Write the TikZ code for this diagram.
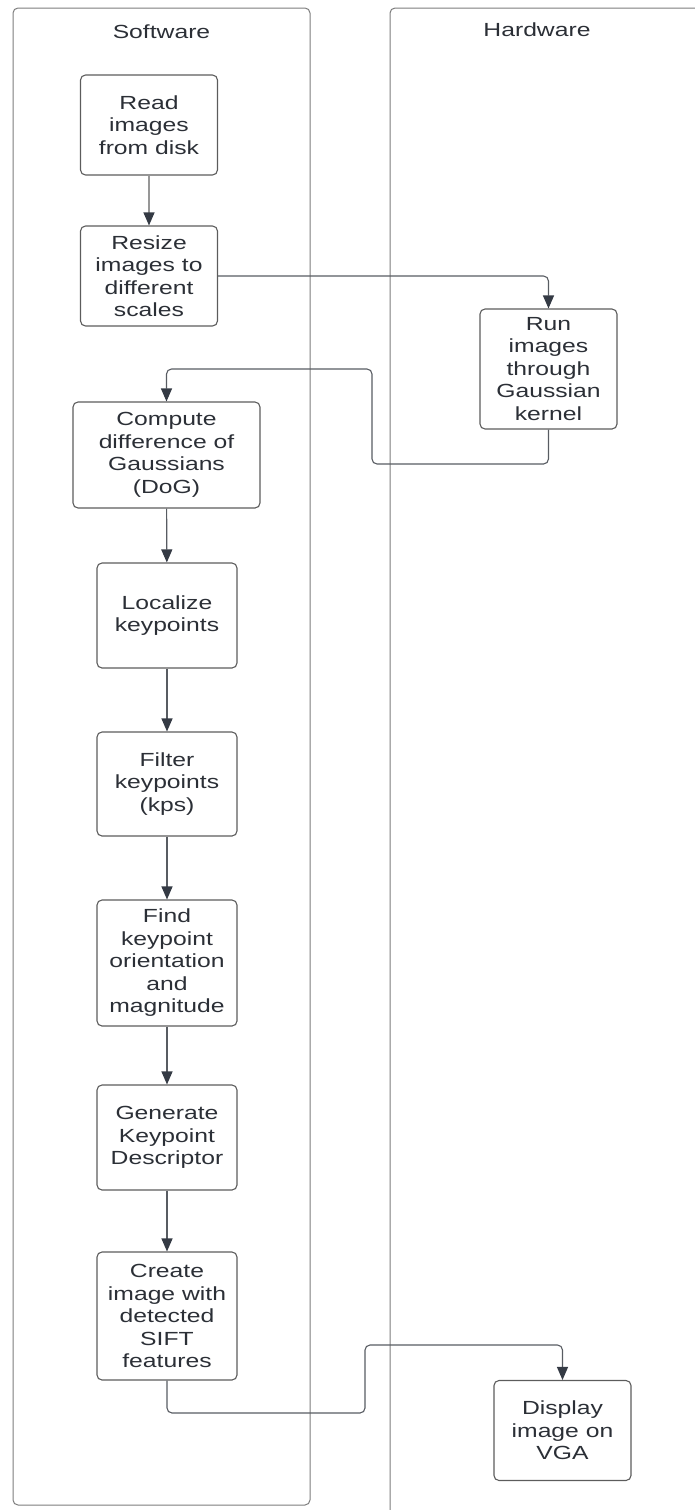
\documentclass[tikz,border=0pt]{standalone}
\usepackage{fontspec}
\newfontfamily\lucid{Liberation Sans}[FakeStretch=1.3]
\usetikzlibrary{arrows.meta}
\definecolor{lanegray}{RGB}{125,125,125}
\definecolor{boxgray}{RGB}{92,92,92}
\definecolor{inkdark}{RGB}{43,47,54}
\definecolor{wiregray}{RGB}{88,92,98}
\definecolor{tipdark}{RGB}{52,58,68}

\begin{document}
\begin{tikzpicture}[x=1pt,y=-1pt,
    lane/.style={draw=lanegray, line width=1pt, rounded corners=5pt},
    proc/.style={draw=boxgray, line width=1.1pt, rounded corners=5pt, align=center,
      inner sep=0pt, text=inkdark, font=\lucid\fontsize{19}{22.5}\selectfont},
    title/.style={text=inkdark, font=\lucid\fontsize{19}{22.5}\selectfont},
    flow/.style={draw=wiregray, line width=1.1pt, rounded corners=5pt,
      -{Triangle[length=13pt,width=11pt,color=tipdark]}}]
    \useasboundingbox (0,0) rectangle (695,1510);

    % swimlanes
    \draw[lane] (13,8) rectangle (310,1505);
    \draw[lane] (390,1520) -- (390,8) -- (720,8);
    \node[title] (sw) at (161.5,32) {Software};
    \node[title] (hw) at (537,30) {Hardware};

    % software steps
    \node[proc, minimum width=137pt, minimum height=100pt] (read) at (149,125) {Read\\images\\from disk};
    \node[proc, minimum width=137pt, minimum height=100pt] (resize) at (149,276) {Resize\\images to\\different\\scales};
    \node[proc, minimum width=187pt, minimum height=106pt] (dog) at (166.5,455) {Compute\\difference of\\Gaussians\\(DoG)};
    \node[proc, minimum width=140pt, minimum height=105pt] (loc) at (167,615.5) {Localize\\keypoints};
    \node[proc, minimum width=140pt, minimum height=104pt] (filt) at (167,784) {Filter\\keypoints\\(kps)};
    \node[proc, minimum width=140pt, minimum height=126pt] (orient) at (167,963) {Find\\keypoint\\orientation\\and\\magnitude};
    \node[proc, minimum width=140pt, minimum height=105pt] (desc) at (167,1137.5) {Generate\\Keypoint\\Descriptor};
    \node[proc, minimum width=140pt, minimum height=128pt] (sift) at (167,1316) {Create\\image with\\detected\\SIFT\\features};

    % hardware steps
    \node[proc, minimum width=137pt, minimum height=120pt] (gauss) at (548.5,369) {Run\\images\\through\\Gaussian\\kernel};
    \node[proc, minimum width=137pt, minimum height=100pt] (vga) at (562.5,1430.5) {Display\\image on\\VGA};

    % bends
    \coordinate (g1) at (372,464);
    \coordinate (g2) at (372,369);
    \coordinate (v1) at (365,1413);
    \coordinate (v2) at (365,1345);

    % connectors
    \draw[flow, draw=lanegray!80] (read) -- (resize);
    \draw[flow] (resize.east) -| (gauss.north);
    \draw[flow] (gauss.south) |- (g1) -- (g2) -| (dog.north);
    \draw[flow] (dog) -- (loc);
    \draw[flow] (loc) -- (filt);
    \draw[flow] (filt) -- (orient);
    \draw[flow] (orient) -- (desc);
    \draw[flow] (desc) -- (sift);
    \draw[flow] (sift.south) |- (v1) -- (v2) -| (vga.north);
\end{tikzpicture}
\end{document}
